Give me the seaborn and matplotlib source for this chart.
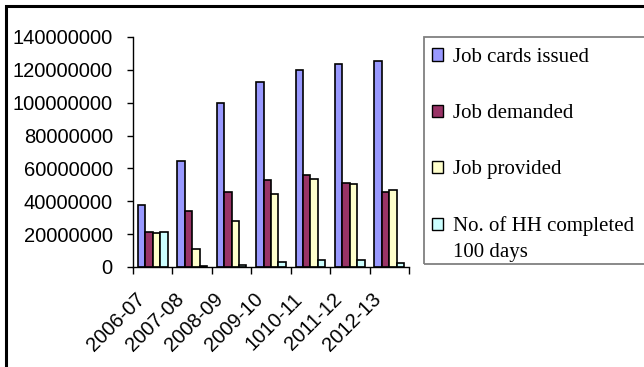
import pandas as pd
import seaborn as sns
import matplotlib.pyplot as plt
from matplotlib.patches import Rectangle
from matplotlib.ticker import FuncFormatter, FixedLocator
from matplotlib.transforms import ScaledTranslation

# values
years = ["2006-07", "2007-08", "2008-09", "2009-10", "1010-11", "2011-12", "2012-13"]
job_cards = [37600000, 64600000, 100000000, 112700000, 119800000, 123800000, 125600000]
job_demanded = [21200000, 34300000, 45400000, 52700000, 55900000, 51100000, 45400000]
job_provided = [20600000, 10900000, 27900000, 44600000, 53500000, 50300000, 46700000]
hh_100_days = [21400000, 600000, 1400000, 3200000, 4000000, 4000000, 2200000]

series_names = ["Job cards issued", "Job demanded", "Job provided",
                "No. of HH completed"]
last_label_line2 = "100 days"
colors = ["#9999FF", "#993366", "#FFFFCC", "#CCFFFF"]

# long format for seaborn
df = pd.DataFrame({
    "year": years * 4,
    "series": [s for s in series_names for _ in years],
    "value": job_cards + job_demanded + job_provided + hh_100_days,
})

fig = plt.figure(figsize=(6.44, 3.67), dpi=100)
ax = fig.add_axes([133 / 644, 1 - 267 / 367, (409 - 133) / 644, (267 - 37) / 367])

sns.barplot(data=df, x="year", y="value", hue="series", hue_order=series_names,
            palette=colors, edgecolor="black", linewidth=1.2, width=0.75,
            saturation=1, errorbar=None, ax=ax)

ax.set_ylim(0, 140000000)
ax.set_yticks(range(0, 140000001, 20000000))
ax.yaxis.set_major_formatter(FuncFormatter(lambda v, p: f"{int(v)}"))
ax.set_xlim(-0.5, 6.5)
ax.set_xlabel("")
ax.set_ylabel("")
for s in ["top", "right"]:
    ax.spines[s].set_visible(False)
ax.spines["left"].set_linewidth(1.0)
ax.spines["bottom"].set_linewidth(1.0)

ax.tick_params(axis="y", length=4, width=1, pad=10.5, labelsize=14.5)
ax.tick_params(axis="x", which="major", length=0, pad=21, labelsize=14.5)
ax.xaxis.set_minor_locator(FixedLocator([i - 0.5 for i in range(8)]))
ax.tick_params(axis="x", which="minor", length=5, width=1)
for lbl in ax.get_yticklabels() + ax.get_xticklabels():
    lbl.set_family("Liberation Sans")
shift = ScaledTranslation(-11 / 100, 0, fig.dpi_scale_trans)
for lbl in ax.get_xticklabels():
    lbl.set_rotation(45)
    lbl.set_ha("right")
    lbl.set_va("center")
    lbl.set_rotation_mode("anchor")
    lbl.set_transform(lbl.get_transform() + shift)

# legend outside the plot, serif font like the original
handles, labels = ax.get_legend_handles_labels()
ax.legend_.remove()
leg_font = {"family": "Liberation Serif", "size": 15}
leg = fig.legend(handles, labels, loc="upper left",
                 bbox_to_anchor=(432 / 644, 1 - 48 / 367),
                 frameon=False, prop=leg_font,
                 handlelength=0.53, handleheight=0.53, handletextpad=0.48,
                 labelspacing=1.78, borderaxespad=0, borderpad=0)
for h in leg.legend_handles:
    h.set_edgecolor("black")
    h.set_linewidth(1.0)

# second line of the last legend label, placed under the first line
fig.canvas.draw()
bb = leg.get_texts()[-1].get_window_extent().transformed(fig.transFigure.inverted())
fig.text(bb.x0, bb.y0 - 26 / 367, last_label_line2, fontdict=leg_font,
         ha="left", va="bottom")

# legend box and outer chart border
fig.add_artist(Rectangle((424 / 644, 1 - 264 / 367), 0.5, (264 - 37) / 367,
                         transform=fig.transFigure, fill=False,
                         edgecolor="#808080", linewidth=1.3))
fig.add_artist(Rectangle((6 / 644, -0.2), 1.2, 1.2 - 6 / 367,
                         transform=fig.transFigure, fill=False,
                         edgecolor="black", linewidth=2.2))

fig.savefig("out.png", dpi=100)
